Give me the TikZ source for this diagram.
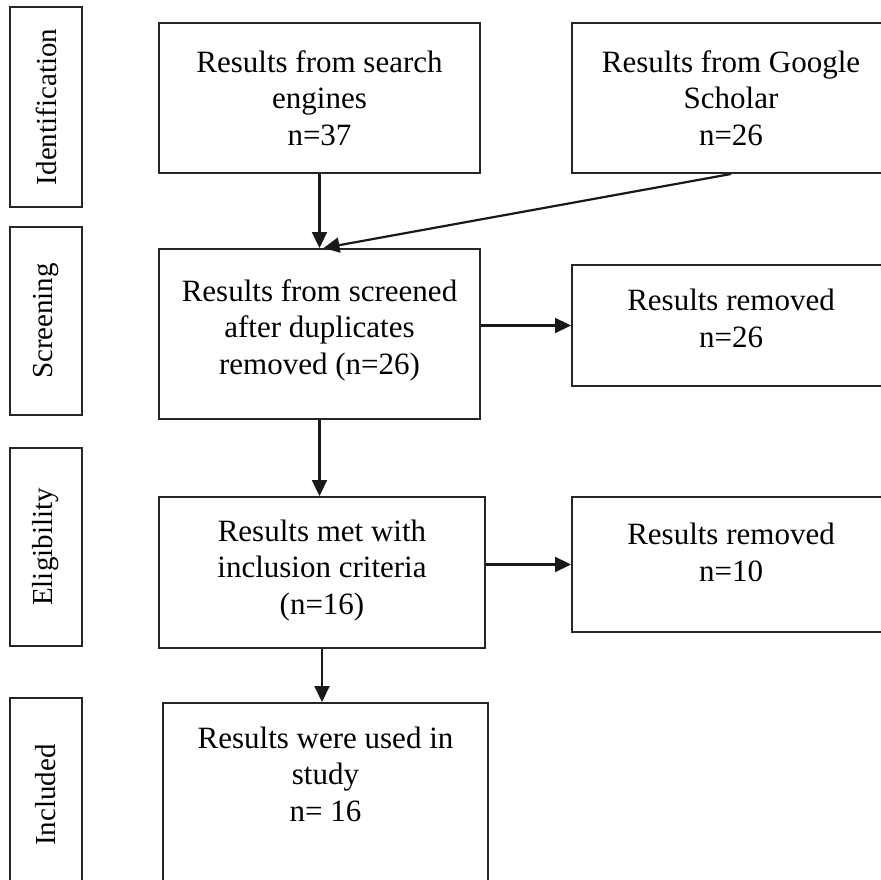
\documentclass[tikz,border=0pt]{standalone}
\usepackage{fontspec}
\setmainfont{Liberation Serif}
\usepackage{tikz}
\usetikzlibrary{calc,arrows.meta}
\tikzset{
	box/.style={draw=black!85, line width=2pt, rectangle, inner sep=0pt},
	txt/.style={align=center, inner sep=0pt, font=\fontsize{31}{36.5}\selectfont},
	side/.style={rotate=90, inner sep=0pt, font=\fontsize{29}{34}\selectfont},
	arr/.style={line width=2.2pt, draw=black!90, -{Triangle[length=16pt,width=15pt]}}
}

\begin{document}
\begin{tikzpicture}[x=1pt, y=-1pt]
			%%%%% START %%%%%
			
			\useasboundingbox (0, 0) rectangle (881, 880);
			\clip (0, 0) rectangle (881, 880);
			
			% stages on the left
			\node[box, minimum width=72, minimum height=200] (ident) at (46, 107) {};
			\node[side] (identtxt) at (ident) {Identification};
			\node[box, minimum width=72, minimum height=188] (screen) at (46, 321) {};
			\node[side] (screentxt) at (screen) {Screening};
			\node[box, minimum width=72, minimum height=198] (elig) at (46, 547) {};
			\node[side] (eligtxt) at (elig) {Eligibility};
			\node[box, minimum width=72, minimum height=194] (incl) at (46, 795) {};
			\node[side] (incltxt) at (incl) {Included};
			
			% records
			\node[box, minimum width=321, minimum height=150] (search) at (319.5, 98) {};
			\node[txt] (searchtxt) at (search) {Results from search\\engines\\n=37};
			\node[box, minimum width=318, minimum height=150] (google) at (731, 98) {};
			\node[txt] (googletxt) at (google) {Results from Google\\Scholar\\n=26};
			
			\node[box, minimum width=321, minimum height=170] (screened) at (319.5, 334) {};
			\node[txt] (screenedtxt) at ($(screened)+(0, -4)$) {Results from screened\\after duplicates\\removed (n=26)};
			\node[box, minimum width=318, minimum height=121] (remone) at (731, 325.5) {};
			\node[txt] (remonetxt) at ($(remone)+(0, -7)$) {Results removed\\n=26};
			
			\node[box, minimum width=326, minimum height=151] (met) at (322, 572.5) {};
			\node[txt] (mettxt) at ($(met)+(0, -2)$) {Results met with\\inclusion criteria\\(n=16)};
			\node[box, minimum width=318, minimum height=135] (remtwo) at (731, 564.5) {};
			\node[txt] (remtwotxt) at ($(remtwo)+(0, -12)$) {Results removed\\n=10};
			
			\node[box, minimum width=325, minimum height=194] (used) at (325.5, 800) {};
			\node[txt] (usedtxt) at ($(used.north)+(0, 72)$) {Results were used in\\study\\n= 16};
			
			% arrows
			\draw[arr] (search.south) -- (screened.north);
			\draw[arr] (google.south) -- ($(screened.north)+(4, 0)$);
			\draw[arr] (screened.east |- remone.west) -- (remone.west);
			\draw[arr] (screened.south) -- (screened.south |- met.north);
			\draw[arr] (met.east |- remtwo.west) -- (remtwo.west);
			\draw[arr] (met.south) -- (met.south |- used.north);
			
			%%%%% END %%%%%
\end{tikzpicture}
\end{document}
